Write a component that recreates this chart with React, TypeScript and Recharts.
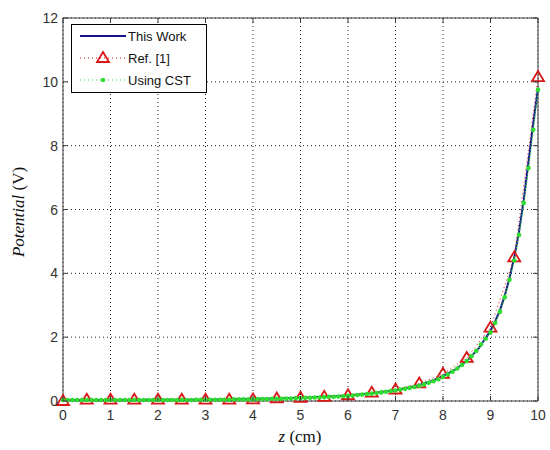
import React from "react";
import { LineChart, Line, XAxis, YAxis, CartesianGrid, ReferenceLine } from "recharts";

// ---- data ----
const xTicks = [0, 1, 2, 3, 4, 5, 6, 7, 8, 9, 10];
const yTicks = [0, 2, 4, 6, 8, 10, 12];

const thisWorkZ = [0, 1, 2, 3, 4, 5, 5.5, 6, 6.5, 7, 7.25, 7.5, 7.75, 8, 8.25, 8.5, 8.75, 9, 9.1, 9.2, 9.3, 9.4, 9.5, 9.6, 9.7, 9.8, 9.9, 10];
const thisWorkV = [0.03, 0.03, 0.04, 0.04, 0.06, 0.1, 0.13, 0.17, 0.24, 0.34, 0.41, 0.5, 0.62, 0.78, 0.98, 1.25, 1.65, 2.2, 2.5, 2.85, 3.3, 3.85, 4.5, 5.3, 6.3, 7.5, 8.7, 9.8];

const refZ = [0, 0.5, 1, 1.5, 2, 2.5, 3, 3.5, 4, 4.5, 5, 5.5, 6, 6.5, 7, 7.5, 8, 8.5, 9, 9.5, 10];
const refV = [0, 0.04, 0.04, 0.04, 0.04, 0.04, 0.04, 0.04, 0.05, 0.08, 0.1, 0.13, 0.18, 0.26, 0.36, 0.55, 0.85, 1.35, 2.3, 4.5, 10.15];

const cstZ = [
  0, 0.1, 0.2, 0.3, 0.4, 0.5, 0.6, 0.7, 0.8, 0.9, 1, 1.1, 1.2, 1.3, 1.4, 1.5, 1.6, 1.7, 1.8, 1.9,
  2, 2.1, 2.2, 2.3, 2.4, 2.5, 2.6, 2.7, 2.8, 2.9, 3, 3.1, 3.2, 3.3, 3.4, 3.5, 3.6, 3.7, 3.8, 3.9,
  4, 4.1, 4.2, 4.3, 4.4, 4.5, 4.6, 4.7, 4.8, 4.9, 5, 5.1, 5.2, 5.3, 5.4, 5.5, 5.6, 5.7, 5.8, 5.9,
  6, 6.1, 6.2, 6.3, 6.4, 6.5, 6.6, 6.7, 6.8, 6.9, 7, 7.1, 7.2, 7.3, 7.4, 7.5, 7.6, 7.7, 7.8, 7.9,
  8, 8.1, 8.2, 8.3, 8.4, 8.5, 8.6, 8.7, 8.8, 8.9, 9, 9.1, 9.2, 9.3, 9.4, 9.5, 9.6, 9.7, 9.8, 9.9, 10,
];
const cstV = [
  0.03, 0.03, 0.03, 0.03, 0.03, 0.03, 0.03, 0.03, 0.03, 0.03, 0.03, 0.03, 0.03, 0.03, 0.03, 0.03, 0.03, 0.03, 0.03, 0.03,
  0.03, 0.03, 0.03, 0.03, 0.03, 0.03, 0.03, 0.03, 0.04, 0.04, 0.04, 0.04, 0.04, 0.04, 0.04, 0.04, 0.05, 0.05, 0.05, 0.05,
  0.05, 0.06, 0.06, 0.06, 0.07, 0.07, 0.07, 0.08, 0.08, 0.09, 0.09, 0.1, 0.1, 0.11, 0.11, 0.12, 0.13, 0.13, 0.14, 0.15,
  0.16, 0.17, 0.19, 0.2, 0.22, 0.23, 0.25, 0.27, 0.29, 0.31, 0.33, 0.36, 0.38, 0.41, 0.44, 0.48, 0.52, 0.57, 0.62, 0.68,
  0.75, 0.83, 0.92, 1.02, 1.13, 1.25, 1.4, 1.57, 1.77, 1.95, 2.15, 2.45, 2.8, 3.25, 3.8, 4.4, 5.2, 6.2, 7.3, 8.5, 9.75,
];

const thisWorkData = thisWorkZ.map((z, i) => ({ z, v: thisWorkV[i] }));
const refData = refZ.map((z, i) => ({ z, v: refV[i] }));
const cstData = cstZ.map((z, i) => ({ z, v: cstV[i] }));

// ---- layout / style ----
const W = 550;
const H = 450;
const PL = 63;
const PR = 538;
const PT = 18;
const PB = 401;
const BLUE = "#16168c";
const RED = "#d81818";
const GREEN = "#2ede2e";
const FRAME = "#3c3c3c";
const TICK_FONT = "Arial, 'Liberation Sans', sans-serif";

const XTick = (props: any) => {
  const { x, y, payload } = props;
  return (
    <g>
      <line x1={x} y1={PB} x2={x} y2={PB - 5} stroke={FRAME} />
      <line x1={x} y1={PT} x2={x} y2={PT + 5} stroke={FRAME} />
      <text x={x} y={y + 19} textAnchor="middle" fontSize={14} fill="#333" fontFamily={TICK_FONT}>
        {payload.value}
      </text>
    </g>
  );
};

const YTick = (props: any) => {
  const { x, y, payload } = props;
  return (
    <g>
      <line x1={PL} y1={y} x2={PL + 5} y2={y} stroke={FRAME} />
      <line x1={PR} y1={y} x2={PR - 5} y2={y} stroke={FRAME} />
      <text x={x - 5} y={y + 5} textAnchor="end" fontSize={14} fill="#333" fontFamily={TICK_FONT}>
        {payload.value}
      </text>
    </g>
  );
};

const Triangle = (props: any) => {
  const { cx, cy } = props;
  if (cx == null || cy == null) return null;
  return (
    <path
      d={`M${cx},${cy - 6} L${cx + 6},${cy + 4} L${cx - 6},${cy + 4} Z`}
      fill="none"
      stroke={RED}
      strokeWidth={1.8}
    />
  );
};

const GreenDot = (props: any) => {
  const { cx, cy } = props;
  if (cx == null || cy == null) return null;
  return <circle cx={cx} cy={cy} r={2.3} fill={GREEN} />;
};

const YLabel = () => (
  <text
    transform="translate(24,212) rotate(-90)"
    textAnchor="middle"
    fontSize={17}
    fill="#111"
    fontFamily="'Liberation Serif', 'DejaVu Serif', serif"
  >
    <tspan fontStyle="italic">Potential</tspan>
    <tspan> (V)</tspan>
  </text>
);

const XLabel = () => (
  <text x={300} y={442} textAnchor="middle" fontSize={17} fill="#111" fontFamily="'Liberation Serif', 'DejaVu Serif', serif">
    <tspan fontStyle="italic">z</tspan>
    <tspan> (cm)</tspan>
  </text>
);

const Legend = () => (
  <svg width={W} height={H} style={{ position: "absolute", left: 0, top: 0, pointerEvents: "none" }}>
    <rect x={71.5} y={24.5} width={135} height={68} fill="#fff" stroke="#000" />
    <line x1={80} y1={36} x2={126} y2={36} stroke={BLUE} strokeWidth={2} />
    <text x={128} y={41} fontSize={13} fill="#111" fontFamily={TICK_FONT}>This Work</text>
    <line x1={80} y1={58} x2={126} y2={58} stroke={RED} strokeDasharray="1 3" />
    <path d="M103,52 L109,62 L97,62 Z" fill="none" stroke={RED} strokeWidth={1.8} />
    <text x={128} y={63} fontSize={13} fill="#111" fontFamily={TICK_FONT}>Ref. [1]</text>
    <line x1={80} y1={80} x2={126} y2={80} stroke={GREEN} strokeDasharray="1 3" />
    <circle cx={103} cy={80} r={2.3} fill={GREEN} />
    <text x={128} y={85} fontSize={13} fill="#111" fontFamily={TICK_FONT}>Using CST</text>
  </svg>
);

export default function App() {
  return (
    <div style={{ position: "absolute", left: 0, top: 0, width: W, height: H, background: "#fff" }}>
      <LineChart width={W} height={H} margin={{ top: PT, right: W - PR, bottom: 0, left: 0 }}>
        <CartesianGrid stroke="#222" strokeDasharray="1 3" />
        <XAxis
          dataKey="z"
          type="number"
          domain={[0, 10]}
          ticks={xTicks}
          height={H - PB}
          tickSize={0}
          tickMargin={0}
          tick={<XTick />}
          axisLine={{ stroke: FRAME }}
          allowDuplicatedCategory={false}
        />
        <YAxis
          type="number"
          domain={[0, 12]}
          ticks={yTicks}
          width={PL}
          tickSize={0}
          tickMargin={0}
          tick={<YTick />}
          axisLine={{ stroke: FRAME }}
        />
        <ReferenceLine y={12} stroke={FRAME} />
        <ReferenceLine x={10} stroke={FRAME} />
        <Line data={thisWorkData} dataKey="v" stroke={BLUE} strokeWidth={2} dot={false} isAnimationActive={false} />
        <Line data={refData} dataKey="v" stroke={RED} strokeDasharray="1 3" dot={<Triangle />} isAnimationActive={false} />
        <Line data={cstData} dataKey="v" stroke={GREEN} strokeWidth={1.5} strokeDasharray="1 2" dot={<GreenDot />} isAnimationActive={false} />
        <YLabel />
        <XLabel />
      </LineChart>
      <Legend />
    </div>
  );
}
